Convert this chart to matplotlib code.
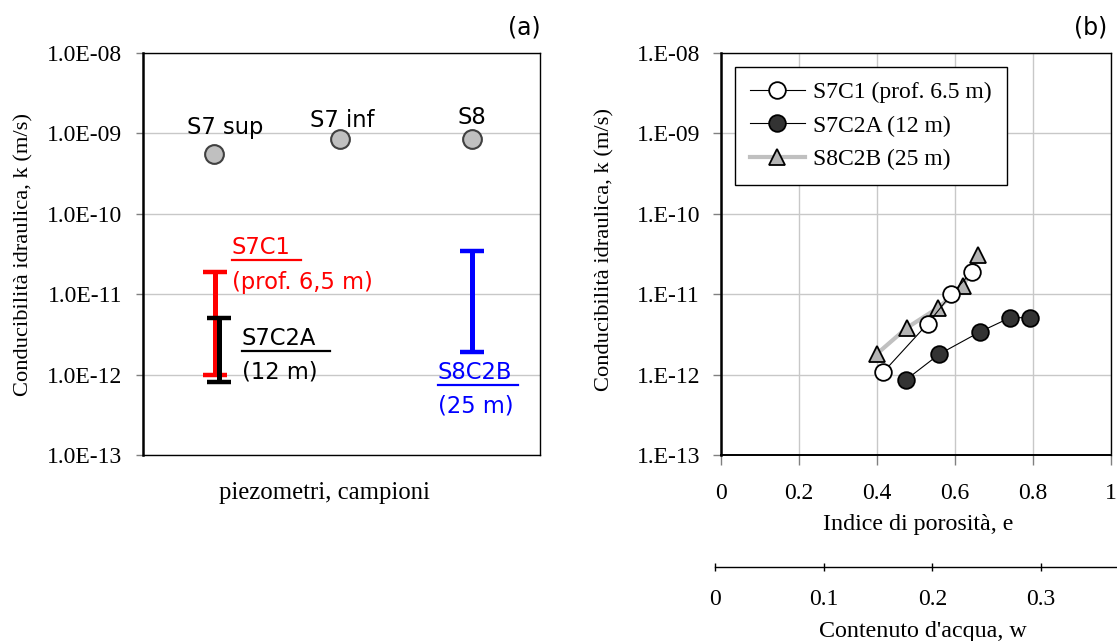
import matplotlib
matplotlib.use("Agg")
import matplotlib.pyplot as plt
from matplotlib.ticker import FixedLocator, FixedFormatter, NullLocator
from matplotlib.lines import Line2D

# ---------------- data ----------------
# panel (a): piezometer measurements
piezo_names = ["S7 sup", "S7 inf", "S8"]
piezo_x = [0.179, 0.496, 0.829]
piezo_k = [5.6e-10, 8.4e-10, 8.4e-10]

# panel (a): sample ranges (min, max)
sample_names = ["S7C1", "S7C2A", "S8C2B"]
sample_depths = ["(prof. 6,5 m)", "(12 m)", "(25 m)"]
sample_x = [0.181, 0.191, 0.829]
sample_kmin = [1.0e-12, 8.1e-13, 1.9e-12]
sample_kmax = [1.9e-11, 5.1e-12, 3.4e-11]
sample_colors = ["#ff0000", "#000000", "#0000ff"]

# panel (b): k vs void ratio
s7c1_e = [0.416, 0.530, 0.591, 0.643]
s7c1_k = [1.07e-12, 4.3e-12, 1.0e-11, 1.9e-11]
s7c2a_e = [0.474, 0.560, 0.664, 0.741, 0.792]
s7c2a_k = [8.6e-13, 1.8e-12, 3.4e-12, 5.1e-12, 5.1e-12]
s8c2b_e = [0.399, 0.476, 0.557, 0.621, 0.660]
s8c2b_k = [1.8e-12, 3.8e-12, 6.8e-12, 1.26e-11, 3.1e-11]

ytick_vals = [1e-13, 1e-12, 1e-11, 1e-10, 1e-9, 1e-8]
ytick_a = ["1.0E-13", "1.0E-12", "1.0E-11", "1.0E-10", "1.0E-09", "1.0E-08"]
ytick_b = ["1.E-13", "1.E-12", "1.E-11", "1.E-10", "1.E-09", "1.E-08"]
xtick_e = [0, 0.2, 0.4, 0.6, 0.8, 1]
xtick_e_lbl = ["0", "0.2", "0.4", "0.6", "0.8", "1"]
xtick_w = [0, 0.1, 0.2, 0.3]
xtick_w_lbl = ["0", "0.1", "0.2", "0.3"]

SERIF = ["Liberation Serif", "DejaVu Serif"]
SANS = ["DejaVu Sans"]
FS = 17.0      # serif tick labels / legend
FSL = 17.3     # serif axis titles
FSY = 16.2     # serif y titles
FSS = 16.3     # sans annotations
GRID = "#c8c8c8"

W, H = 1117, 641
fig = plt.figure(figsize=(W / 100, H / 100), dpi=100)

def axrect(l, t, r, b):
    return [l / W, 1 - b / H, (r - l) / W, (b - t) / H]

# ---------------- panel (a) ----------------
axa = fig.add_axes(axrect(143, 53, 540, 455))
axa.set_yscale("log")
axa.set_ylim(1e-13, 1e-8)
axa.set_xlim(0, 1)
axa.yaxis.set_major_locator(FixedLocator(ytick_vals))
axa.yaxis.set_major_formatter(FixedFormatter(ytick_a))
axa.yaxis.set_minor_locator(NullLocator())
axa.set_xticks([])
axa.grid(axis="y", color=GRID, lw=1)
axa.set_axisbelow(True)
for s in axa.spines.values():
    s.set_color("#000000")
    s.set_linewidth(1.0)
axa.spines["left"].set_linewidth(1.8)
axa.tick_params(axis="y", direction="out", length=5, width=1, color="#808080", pad=10)
for t in axa.get_yticklabels():
    t.set_fontfamily(SERIF)
    t.set_fontsize(FS)

axa.plot(piezo_x, piezo_k, ls="none", marker="o", ms=13.5, mfc="#c0c0c0",
         mec="#404040", mew=1.5, zorder=4)
offs = [(8, 19), (2, 14), (0, 16)]
for name, x, k, o in zip(piezo_names, piezo_x, piezo_k, offs):
    axa.annotate(name, (x, k), xytext=o, textcoords="offset points",
                 ha="center", va="center", fontsize=FSS, family=SANS, color="#000000")

for x, lo, hi, c in zip(sample_x, sample_kmin, sample_kmax, sample_colors):
    axa.plot([x, x], [lo, hi], color=c, lw=3.6, solid_capstyle="butt", zorder=3)
    axa.plot([x, x], [lo, hi], ls="none", marker="_", ms=17, mew=3.2, color=c, zorder=3)

lab_pos = [((0.224, 0.515), (0.224, 0.430)),
           ((0.249, 0.291), (0.249, 0.206)),
           ((0.743, 0.206), (0.743, 0.122))]
ul_len = [69, 88, 80]
name_texts = []
for name, depth, c, (p1, p2) in zip(sample_names, sample_depths, sample_colors, lab_pos):
    t1 = axa.text(p1[0], p1[1], name, transform=axa.transAxes, ha="left", va="center",
                  fontsize=FSS, family=SANS, color=c)
    axa.text(p2[0], p2[1], depth, transform=axa.transAxes, ha="left", va="center",
             fontsize=FSS, family=SANS, color=c)
    name_texts.append(t1)

axa.set_ylabel("Conducibilità idraulica, k (m/s)", fontsize=FSY, family=SERIF)
axa.yaxis.set_label_coords(-0.275, 0.5)
axa.text(0.458, -0.095, "piezometri, campioni", transform=axa.transAxes,
         ha="center", va="center", fontsize=FSL + 0.5, family=SERIF)
fig.text(524 / W, 1 - 27 / H, "(a)", ha="center", va="center", fontsize=17, family=SANS)

# ---------------- panel (b) ----------------
axb = fig.add_axes(axrect(721, 53, 1111, 455))
axb.set_yscale("log")
axb.set_ylim(1e-13, 1e-8)
axb.set_xlim(0, 1)
axb.yaxis.set_major_locator(FixedLocator(ytick_vals))
axb.yaxis.set_major_formatter(FixedFormatter(ytick_b))
axb.yaxis.set_minor_locator(NullLocator())
axb.xaxis.set_major_locator(FixedLocator(xtick_e))
axb.xaxis.set_major_formatter(FixedFormatter(xtick_e_lbl))
axb.grid(True, color=GRID, lw=1)
axb.set_axisbelow(True)
for s in axb.spines.values():
    s.set_color("#000000")
    s.set_linewidth(1.0)
axb.spines["left"].set_linewidth(1.8)
axb.spines["bottom"].set_linewidth(1.4)
axb.tick_params(axis="y", direction="out", length=6, width=1, color="#808080", pad=9)
axb.tick_params(axis="x", direction="out", length=7, width=1, color="#808080", pad=13)
for t in axb.get_yticklabels() + axb.get_xticklabels():
    t.set_fontfamily(SERIF)
    t.set_fontsize(FS)

axb.plot(s8c2b_e, s8c2b_k, color="#c0c0c0", lw=3, marker="^", ms=12, mfc="#b4b4b4",
         mec="#000000", mew=1.3, label="S8C2B (25 m)", zorder=3)
axb.plot(s7c1_e, s7c1_k, color="#000000", lw=0.8, marker="o", ms=12, mfc="#ffffff",
         mec="#000000", mew=1.3, label="S7C1 (prof. 6.5 m)", zorder=4)
axb.plot(s7c2a_e, s7c2a_k, color="#000000", lw=0.8, marker="o", ms=12, mfc="#333333",
         mec="#000000", mew=1.3, label="S7C2A (12 m)", zorder=4)

handles, labels = axb.get_legend_handles_labels()
order = [1, 2, 0]
leg = axb.legend([handles[i] for i in order], [labels[i] for i in order],
                 loc="upper left", bbox_to_anchor=(0.036, 0.965), borderaxespad=0,
                 prop={"family": SERIF, "size": FS}, frameon=True, fancybox=False,
                 edgecolor="#000000", framealpha=1, handlelength=2.35,
                 labelspacing=0.5, borderpad=0.62, handletextpad=0.35, numpoints=1)
leg.get_frame().set_linewidth(1.0)

axb.set_ylabel("Conducibilità idraulica, k (m/s)", fontsize=FSY, family=SERIF)
axb.yaxis.set_label_coords(-0.274, 0.51)
axb.text(0.505, -0.174, "Indice di porosità, e", transform=axb.transAxes,
         ha="center", va="center", fontsize=FSL, family=SERIF)
fig.text(1091 / W, 1 - 27 / H, "(b)", ha="center", va="center", fontsize=17, family=SANS)

# secondary water-content axis
axw = fig.add_axes(axrect(715, 566, W, 567))
axw.set_xlim(0, 0.37)
axw.set_yticks([])
for k in ["top", "left", "right"]:
    axw.spines[k].set_visible(False)
axw.spines["bottom"].set_linewidth(1.0)
axw.patch.set_alpha(0)
axw.xaxis.set_major_locator(FixedLocator(xtick_w))
axw.xaxis.set_major_formatter(FixedFormatter(xtick_w_lbl))
axw.tick_params(axis="x", direction="inout", length=6, width=1, pad=13)
for t in axw.get_xticklabels():
    t.set_fontfamily(SERIF)
    t.set_fontsize(FS)
fig.text(923 / W, 1 - 631 / H, "Contenuto d'acqua, w", ha="center", va="center",
         fontsize=FSL, family=SERIF)

# underlines for sample labels
fig.canvas.draw()
r = fig.canvas.get_renderer()
for t, c, L in zip(name_texts, sample_colors, ul_len):
    bb = t.get_window_extent(r)
    y = bb.y0 - 1
    fig.add_artist(Line2D([bb.x0 / W, (bb.x0 + L) / W], [y / H, y / H],
                          transform=fig.transFigure, color=c, lw=1.6))

fig.savefig("out.png", dpi=100)
